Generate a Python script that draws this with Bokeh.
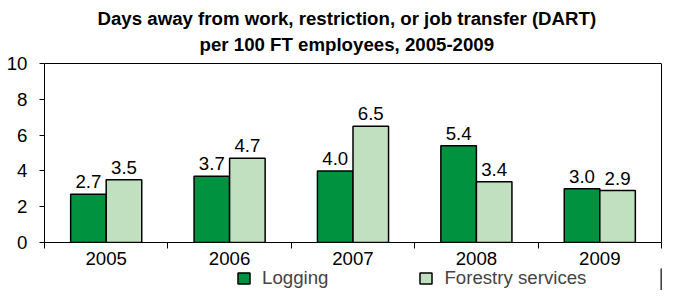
from bokeh.plotting import figure
from bokeh.layouts import column
from bokeh.models import (ColumnDataSource, FixedTicker, Legend, LegendItem, Range1d,
                          LinearAxis, Label, Span)
from bokeh.embed import file_html
from bokeh.resources import INLINE
from bokeh.core.properties import value

years = ["2005", "2006", "2007", "2008", "2009"]
logging = [2.7, 3.7, 4.0, 5.4, 3.0]
forestry = [3.5, 4.7, 6.5, 3.4, 2.9]
y_ticks = [0, 2, 4, 6, 8, 10]
series_names = ["Logging", "Forestry services"]
title_lines = ["Days away from work, restriction, or job transfer (DART)",
               "per 100 FT employees, 2005-2009"]

FONT = "Liberation Sans"
DARK = "#00923F"
LIGHT = "#C0E0C0"
FS = "14pt"

# layout constants (pixels)
PLOT_H = 179          # height of the 0..10 value box
HEAD_H = 63           # space above the value box for the title
FRAME_H = PLOT_H + HEAD_H
BOTTOM_H = 26
STRIP_H = 22
px_per_unit = PLOT_H / y_ticks[-1]
y_top = y_ticks[-1] + HEAD_H / px_per_unit
title_baselines_px = [45, 19]   # baseline height above the value box, per title line

centers = [i + 0.5 for i in range(len(years))]
off = 0.144
w = 0.288

src_l = ColumnDataSource(dict(x=[c - off for c in centers], top=logging,
                              lab=[f"{v:.1f}" for v in logging]))
src_f = ColumnDataSource(dict(x=[c + off for c in centers], top=forestry,
                              lab=[f"{v:.1f}" for v in forestry]))

p = figure(width=662, height=FRAME_H + BOTTOM_H, output_backend="svg", toolbar_location=None,
           x_range=Range1d(0, len(years)), y_range=Range1d(0, y_top), title=None,
           min_border_left=44, min_border_right=1, min_border_top=0, min_border_bottom=BOTTOM_H)
p.outline_line_color = None
p.xgrid.visible = False
p.ygrid.visible = False

xa = p.below[0]
ya = p.left[0]

# title lines
for txt, bpx in zip(title_lines, title_baselines_px):
    p.add_layout(Label(x=len(years) / 2 - 0.05, y=y_ticks[-1] + bpx / px_per_unit,
                       text=txt, text_align="center", text_baseline="alphabetic",
                       text_font=FONT, text_font_size=FS, text_font_style="bold",
                       text_color="black"))

# box around the value area
p.add_layout(Span(location=y_ticks[-1], dimension="width", line_color="black", line_width=1))
right = LinearAxis(ticker=FixedTicker(ticks=[], minor_ticks=[]), bounds=(0, y_ticks[-1]),
                   major_tick_out=0, major_tick_in=0, minor_tick_out=0, minor_tick_in=0,
                   major_label_standoff=0, axis_line_color="black")
p.add_layout(right, "right")

bar_style = dict(line_color="black", line_width=1.5)
p.vbar(x="x", top="top", width=w, bottom=0, source=src_l, fill_color=DARK, **bar_style)
p.vbar(x="x", top="top", width=w, bottom=0, source=src_f, fill_color=LIGHT, **bar_style)

for s in (src_l, src_f):
    p.text(x="x", y="top", text="lab", source=s, text_align="center",
           text_baseline="bottom", y_offset=-6, text_font=value(FONT),
           text_font_size=FS, text_color="black")

xa.ticker = FixedTicker(ticks=centers, minor_ticks=list(range(len(years) + 1)))
xa.major_label_overrides = {c: y for c, y in zip(centers, years)}
xa.major_tick_out = 6
xa.major_tick_in = 0
xa.major_tick_line_color = None
xa.minor_tick_out = 6
xa.minor_tick_in = 0
xa.major_label_standoff = 3
xa.major_label_text_font = FONT
xa.major_label_text_font_size = FS
xa.major_label_text_color = "black"
xa.axis_line_color = "black"
xa.minor_tick_line_color = "black"

ya.ticker = FixedTicker(ticks=y_ticks, minor_ticks=[])
ya.bounds = (0, y_ticks[-1])
ya.major_tick_out = 5
ya.major_tick_in = 0
ya.major_label_standoff = 12
ya.major_label_text_font = FONT
ya.major_label_text_font_size = FS
ya.major_label_text_color = "black"
ya.axis_line_color = "black"
ya.major_tick_line_color = "black"

# legend strip below the chart
lf = figure(width=662, height=STRIP_H, output_backend="svg", toolbar_location=None,
            x_range=Range1d(0, 1), y_range=Range1d(0, 1), title=None,
            x_axis_location=None, y_axis_location=None,
            min_border_left=0, min_border_right=0, min_border_top=0, min_border_bottom=0)
lf.outline_line_color = None
lf.xgrid.visible = False
lf.ygrid.visible = False
key = dict(x=[3], top=[1])  # legend-key proxies, kept far outside the visible strip
kl = lf.vbar(x="x", top="top", width=0.1, source=ColumnDataSource(key), fill_color=DARK, **bar_style)
kf = lf.vbar(x="x", top="top", width=0.1, source=ColumnDataSource(key), fill_color=LIGHT, **bar_style)
legend = Legend(items=[LegendItem(label=series_names[0], renderers=[kl]),
                       LegendItem(label=series_names[1], renderers=[kf])],
                orientation="horizontal", location=(192, 1),
                label_text_font=FONT, label_text_font_size=FS, label_height=20,
                glyph_width=15, glyph_height=14, label_standoff=11, spacing=90,
                border_line_color=None, padding=0, margin=0,
                background_fill_alpha=0)
lf.add_layout(legend)

open("out.html", "w").write(file_html(column(p, lf, spacing=0), INLINE))
